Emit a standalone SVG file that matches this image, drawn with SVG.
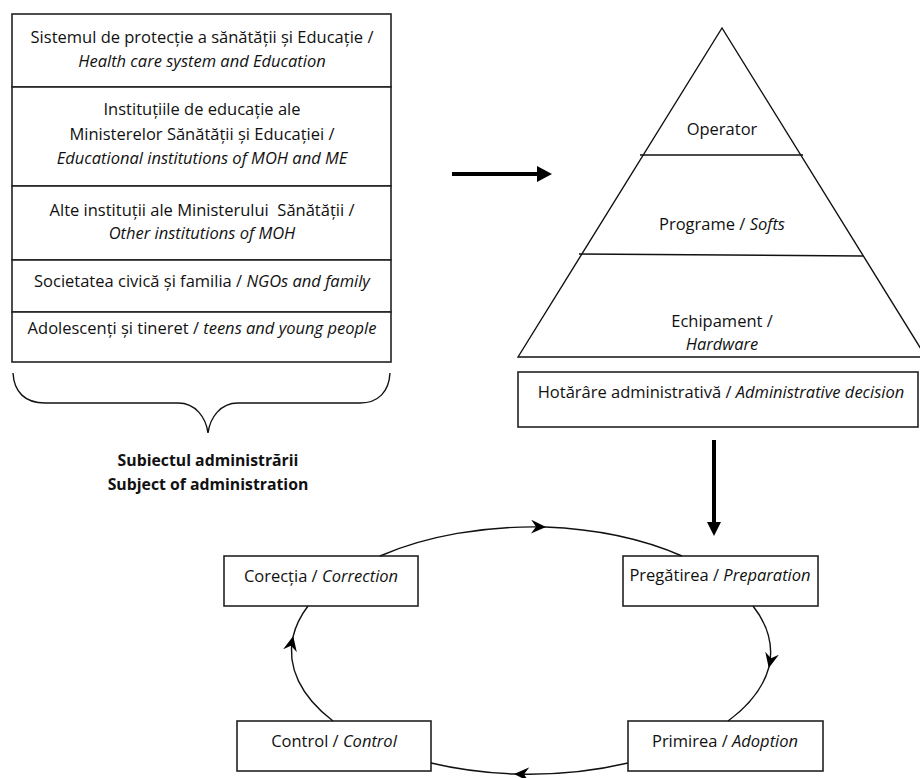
<svg xmlns="http://www.w3.org/2000/svg" width="920" height="778" viewBox="0 0 920 778">
<style>
  text { font-family: "Open Sans", "Noto Sans", "Liberation Sans", sans-serif; font-size: 16.5px; fill: #111; text-anchor: middle; }
  .it { font-style: italic; }
  .b { font-weight: bold; font-size: 15.8px; }
  .box { fill: #fff; stroke: #222; stroke-width: 1.6; }
  .ln { fill: none; stroke: #111; stroke-width: 1.4; }
  .thick { fill: none; stroke: #000; stroke-width: 4; }
</style>
<defs>
  <marker id="stealth" viewBox="0 0 16 14" refX="14" refY="7" markerWidth="16" markerHeight="14" markerUnits="userSpaceOnUse" orient="auto">
    <path d="M0,0 L15,7 L0,14 L5,7 z" fill="#000"/>
  </marker>
</defs>
<rect width="920" height="778" fill="#fff"/>

<g id="stack">
  <g id="s1">
    <rect class="box" x="12" y="14" width="379" height="73"/>
    <text x="202" y="43">Sistemul de protecție a sănătății și Educație /</text>
    <text x="202" y="67" class="it">Health care system and Education</text>
  </g>
  <g id="s2">
    <rect class="box" x="12" y="87" width="379" height="99"/>
    <text x="202" y="115">Instituțiile de educație ale</text>
    <text x="202" y="140">Ministerelor Sănătății și Educației /</text>
    <text x="202" y="164" class="it">Educational institutions of MOH and ME</text>
  </g>
  <g id="s3">
    <rect class="box" x="12" y="186" width="379" height="74"/>
    <text x="202" y="216">Alte instituții ale Ministerului&#160; Sănătății /</text>
    <text x="202" y="239" class="it">Other institutions of MOH</text>
  </g>
  <g id="s4">
    <rect class="box" x="12" y="260" width="379" height="52"/>
    <text x="202" y="287">Societatea civică și familia / <tspan class="it">NGOs and family</tspan></text>
  </g>
  <g id="s5">
    <rect class="box" x="12" y="312" width="379" height="50"/>
    <text x="202" y="334">Adolescenți și tineret / <tspan class="it">teens and young people</tspan></text>
  </g>
</g>

<g id="brace">
  <path class="ln" d="M13,373 C14,392 25,403 45,403 L178,403 C196,403 206,418 208,433 C210,418 220,403 238,403 L360,403 C378,403 389,392 390,373"/>
  <text x="208" y="466" class="b">Subiectul administrării</text>
  <text x="208" y="490" class="b">Subject of administration</text>
</g>

<g id="pyramid">
  <path class="ln" d="M518,357 L722,28 L926,357 Z"/>
  <line class="ln" x1="640" y1="155" x2="803" y2="155"/>
  <line class="ln" x1="579" y1="254" x2="863" y2="256"/>
  <text x="722" y="135">Operator</text>
  <text x="722" y="230">Programe / <tspan class="it">Softs</tspan></text>
  <text x="722" y="327">Echipament /</text>
  <text x="722" y="350" class="it">Hardware</text>
</g>

<g id="decision">
  <rect class="box" x="518" y="372" width="400" height="55"/>
  <text x="721" y="398">Hotărâre administrativă / <tspan class="it">Administrative decision</tspan></text>
</g>

<g id="correction">
  <rect class="box" x="224" y="556" width="194" height="50"/>
  <text x="321" y="582">Corecția / <tspan class="it">Correction</tspan></text>
</g>
<g id="preparation">
  <rect class="box" x="623" y="556" width="195" height="50"/>
  <text x="720" y="581">Pregătirea / <tspan class="it">Preparation</tspan></text>
</g>
<g id="control">
  <rect class="box" x="237" y="721" width="194" height="50"/>
  <text x="334" y="747">Control / <tspan class="it">Control</tspan></text>
</g>
<g id="adoption">
  <rect class="box" x="628" y="721" width="195" height="50"/>
  <text x="725" y="747">Primirea / <tspan class="it">Adoption</tspan></text>
</g>

<g id="connectors">
  <line class="thick" x1="452" y1="174" x2="540" y2="174"/>
  <polygon points="537,166 552,174 537,182" fill="#000"/>
  <line class="thick" x1="714" y1="440" x2="714" y2="524"/>
  <polygon points="707,522 721,522 714,536" fill="#000"/>

  <path class="ln" d="M380,556 A239,124 0 0 1 545,527" marker-end="url(#stealth)"/>
  <path class="ln" d="M545,527 A239,124 0 0 1 682,556"/>
  <path class="ln" d="M753,606 A239,124 0 0 1 769,667" marker-end="url(#stealth)"/>
  <path class="ln" d="M769,667 A239,124 0 0 1 728,721"/>
  <path class="ln" d="M628,763 A239,124 0 0 1 515,774" marker-end="url(#stealth)"/>
  <path class="ln" d="M515,774 A239,124 0 0 1 431,763"/>
  <path class="ln" d="M333,721 A239,124 0 0 1 293,637" marker-end="url(#stealth)"/>
  <path class="ln" d="M293,637 A239,124 0 0 1 308,606"/>
</g>
</svg>
